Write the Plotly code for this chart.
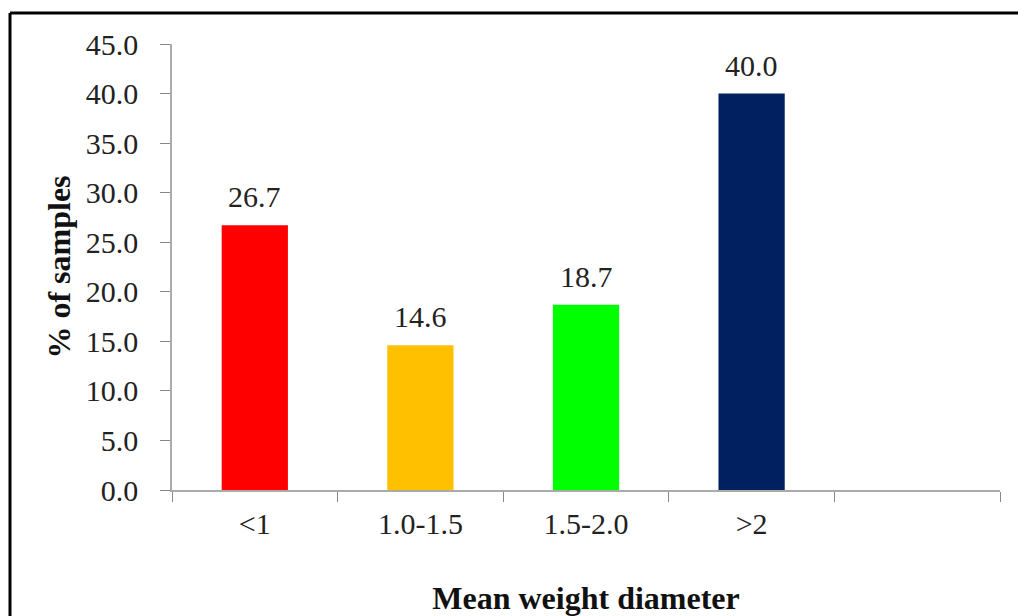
import plotly.graph_objects as go

categories = ["<1", "1.0-1.5", "1.5-2.0", ">2"]
values = [26.7, 14.6, 18.7, 40.0]
colors = ["#FF0000", "#FFC000", "#00FF00", "#002060"]
all_slots = categories + [" "]
y_ticks = [0, 5, 10, 15, 20, 25, 30, 35, 40, 45]
y_tick_text = [f"{v:.1f}" for v in y_ticks]

FONT = "Liberation Serif"
SIZE = 30
TSIZE = 32
fig = go.Figure()
fig.add_trace(go.Bar(
    x=categories, y=values, marker=dict(color=colors, line=dict(width=0)),
    width=0.4, showlegend=False, hoverinfo="skip",
))
for c, v in zip(categories, values):
    fig.add_annotation(x=c, y=v, text=f"{v:.1f}", showarrow=False,
                       yanchor="bottom", yshift=10,
                       font=dict(family=FONT, size=SIZE, color="#222"))

fig.update_layout(
    width=1018, height=616,
    margin=dict(l=172, r=18, t=44, b=126),
    plot_bgcolor="white", paper_bgcolor="white",
    font=dict(family=FONT, size=SIZE, color="#222"),
    xaxis=dict(
        type="category", categoryorder="array", categoryarray=all_slots,
        range=[-0.5, 4.5], tickson="boundaries", ticks="outside", ticklen=10,
        tickcolor="#888", showline=True, linecolor="#aaa", linewidth=2,
        showgrid=False, zeroline=False, ticklabelstandoff=6, automargin=False,
        title=dict(text="<b>Mean weight diameter</b>", standoff=48,
                   font=dict(family=FONT, size=TSIZE, color="#111")),
    ),
    yaxis=dict(
        range=[0, 45], tickvals=y_ticks, ticktext=y_tick_text,
        ticks="outside", ticklen=10, tickcolor="#888",
        showline=True, linecolor="#aaa", linewidth=1.5, automargin=False,
        showgrid=False, zeroline=False, ticklabelstandoff=16,
        title=dict(text="<b>% of samples</b>", standoff=6,
                   font=dict(family=FONT, size=TSIZE, color="#111")),
    ),
    shapes=[
        dict(type="line", xref="paper", yref="paper",
             x0=(10 - 172) / 828, x1=1.1, y0=1 + (44 - 13) / 446, y1=1 + (44 - 13) / 446,
             line=dict(color="black", width=3)),
        dict(type="line", xref="paper", yref="paper",
             x0=(10 - 172) / 828, x1=(10 - 172) / 828, y0=1 + (44 - 13) / 446, y1=-0.4,
             line=dict(color="black", width=3)),
    ],
)

fig.write_html("out.html")
